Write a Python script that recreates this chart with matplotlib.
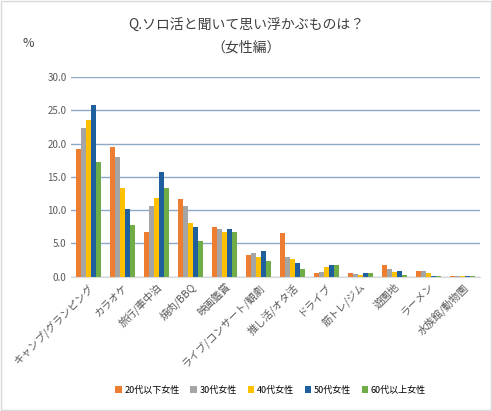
import matplotlib
matplotlib.use("Agg")
import matplotlib.pyplot as plt
import numpy as np

plt.rcParams['font.family'] = ['Noto Sans CJK JP', 'DejaVu Sans']

categories = ["キャンプ/グランピング","カラオケ","旅行/車中泊","焼肉/BBQ","映画鑑賞",
              "ライブ/コンサート/観劇","推し活/オタ活","ドライブ","筋トレ/ジム","遊園地","ラーメン","水族館/動物園"]
series_names = ["20代以下女性","30代女性","40代女性","50代女性","60代以上女性"]
s20 = [19.2, 19.5, 6.7, 11.7, 7.4, 3.3, 6.6, 0.6, 0.6, 1.7, 0.9, 0.1]
s30 = [22.3, 18.0, 10.7, 10.7, 7.2, 3.6, 2.9, 0.7, 0.4, 1.2, 0.8, 0.1]
s40 = [23.5, 13.3, 11.9, 8.1, 6.7, 2.9, 2.6, 1.5, 0.3, 0.7, 0.6, 0.1]
s50 = [25.9, 10.1, 15.7, 7.4, 7.1, 3.9, 2.1, 1.7, 0.6, 0.9, 0.1, 0.1]
s60 = [17.3, 7.8, 13.4, 5.3, 6.7, 2.4, 1.1, 1.7, 0.6, 0.3, 0.1, 0.1]
colors = ["#ED7D31", "#A5A5A5", "#FFC000", "#1F5F9E", "#70AD47"]

fig = plt.figure(figsize=(4.92, 4.11), dpi=100)
ax = fig.add_axes([0.145, 0.327, 0.83, 0.485])
x = np.arange(len(categories))
w = 0.145
for i, (vals, name, c) in enumerate(zip([s20, s30, s40, s50, s60], series_names, colors)):
    ax.bar(x + (i - 2) * w, vals, w, color=c, label=name)
ax.set_ylim(0, 30)
ax.set_yticks(np.arange(0, 31, 5))
ax.set_yticklabels([f"{v:.1f}" for v in np.arange(0, 31, 5)], fontsize=7, color="#595959")
ax.set_xlim(-0.5, len(categories) - 0.5)
ax.set_xticks(x)
ax.set_xticklabels(categories, rotation=45, ha="right", rotation_mode="anchor", fontsize=7.5, color="#595959")
ax.grid(axis="y", color="#8EA9C8", linewidth=1)
ax.set_axisbelow(True)
for s in ["top", "right", "left"]:
    ax.spines[s].set_visible(False)
ax.spines["bottom"].set_color("#D9D9D9")
ax.tick_params(length=0)
fig.text(0.5, 0.93, "Q.ソロ活と聞いて思い浮かぶものは？", ha="center", fontsize=10, color="#404040")
fig.text(0.5, 0.875, "（女性編）", ha="center", fontsize=10, color="#404040")
fig.text(0.045, 0.885, "%", fontsize=9, color="#404040")
fig.legend(loc="lower center", bbox_to_anchor=(0.55, 0.02), ncol=5, frameon=False, fontsize=6.5,
           handlelength=0.7, handleheight=0.7, columnspacing=1.2, handletextpad=0.3)
fig.patches.append(plt.Rectangle((0.002, 0.002), 0.996, 0.996, transform=fig.transFigure,
                                 fill=False, edgecolor="#D9D9D9", linewidth=1))
fig.savefig("out.png", dpi=100)
